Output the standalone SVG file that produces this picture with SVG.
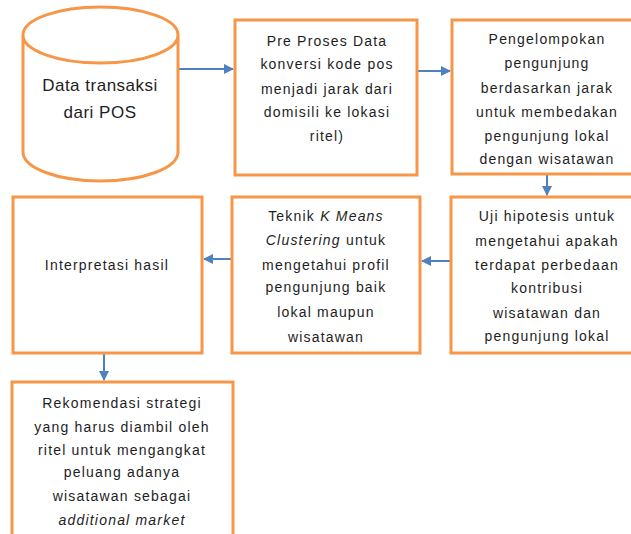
<svg xmlns="http://www.w3.org/2000/svg" width="631" height="534" viewBox="0 0 631 534">
<style>
.box{fill:#fff;stroke:#f79646;stroke-width:3}
.t{font-family:"Liberation Sans",Arial,sans-serif;font-size:14px;fill:#1e1e1e;text-anchor:middle;letter-spacing:1.2px}
.big{font-size:17px;letter-spacing:0.5px}
.c{stroke:#4f81bd;stroke-width:2;fill:none;marker-end:url(#ah)}
</style>
<defs>
<marker id="ah" viewBox="0 0 10 10" refX="9" refY="5" markerWidth="5" markerHeight="5" orient="auto" markerUnits="strokeWidth">
<path d="M0,0 L10,5 L0,10 z" fill="#4f81bd"/>
</marker>
</defs>
<rect width="631" height="534" fill="#fff"/>
<g id="connectors">
<line class="c" x1="178" y1="69" x2="233" y2="69"/>
<line class="c" x1="417" y1="71" x2="450" y2="71"/>
<line class="c" x1="547" y1="175" x2="547" y2="195"/>
<line class="c" x1="451" y1="261" x2="422" y2="261"/>
<line class="c" x1="232" y1="259" x2="204" y2="259"/>
<line class="c" x1="104" y1="354" x2="104" y2="380"/>
</g>
<g id="n1">
<path class="box" d="M23,35 L23,152 A77.5,29 0 0 0 178,152 L178,35 A77.5,28 0 0 0 23,35 A77.5,28 0 0 0 178,35"/>
<text class="t big" x="100" y="91">Data transaksi</text>
<text class="t big" x="100" y="118">dari POS</text>
</g>
<g id="n2">
<rect class="box" x="235" y="20" width="182" height="155"/>
<text class="t" x="327" y="46">Pre Proses Data</text>
<text class="t" x="327" y="69">konversi kode pos</text>
<text class="t" x="327" y="94">menjadi jarak dari</text>
<text class="t" x="327" y="117">domisili ke lokasi</text>
<text class="t" x="327" y="141">ritel)</text>
</g>
<g id="n3">
<rect class="box" x="452" y="20" width="185" height="154"/>
<text class="t" x="547" y="44">Pengelompokan</text>
<text class="t" x="547" y="68">pengunjung</text>
<text class="t" x="547" y="93">berdasarkan jarak</text>
<text class="t" x="547" y="117">untuk membedakan</text>
<text class="t" x="547" y="141">pengunjung lokal</text>
<text class="t" x="547" y="164">dengan wisatawan</text>
</g>
<g id="n4">
<rect class="box" x="451" y="197" width="186" height="156"/>
<text class="t" x="547" y="221">Uji hipotesis untuk</text>
<text class="t" x="547" y="246">mengetahui apakah</text>
<text class="t" x="547" y="270">terdapat perbedaan</text>
<text class="t" x="547" y="293">kontribusi</text>
<text class="t" x="547" y="318">wisatawan dan</text>
<text class="t" x="547" y="341">pengunjung lokal</text>
</g>
<g id="n5">
<rect class="box" x="232" y="197" width="188" height="156"/>
<text class="t" x="326" y="221">Teknik <tspan font-style="italic">K Means</tspan></text>
<text class="t" x="326" y="245"><tspan font-style="italic">Clustering</tspan> untuk</text>
<text class="t" x="326" y="270">mengetahui profil</text>
<text class="t" x="326" y="292">pengunjung baik</text>
<text class="t" x="326" y="317">lokal maupun</text>
<text class="t" x="326" y="342">wisatawan</text>
</g>
<g id="n6">
<rect class="box" x="13" y="197" width="189" height="156"/>
<text class="t" x="107" y="270">Interpretasi hasil</text>
</g>
<g id="n7">
<rect class="box" x="12" y="382" width="221" height="160"/>
<text class="t" x="122" y="408">Rekomendasi strategi</text>
<text class="t" x="122" y="432">yang harus diambil oleh</text>
<text class="t" x="122" y="455">ritel untuk mengangkat</text>
<text class="t" x="122" y="477">peluang adanya</text>
<text class="t" x="122" y="501">wisatawan sebagai</text>
<text class="t" x="122" y="525" font-style="italic">additional market</text>
</g>
</svg>
